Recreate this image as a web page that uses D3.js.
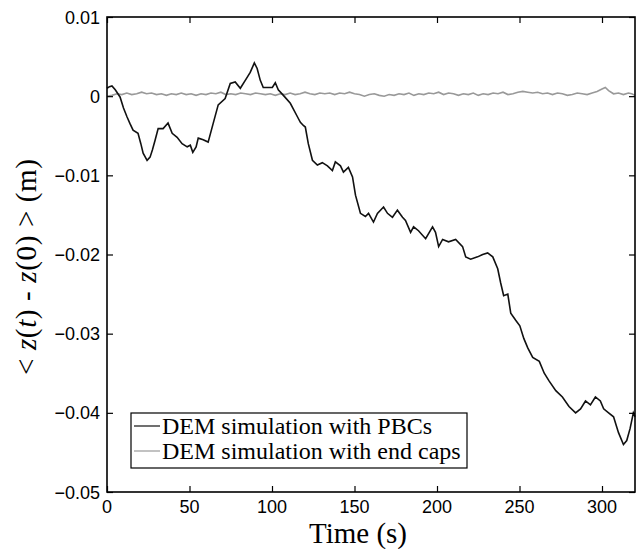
<!DOCTYPE html>
<html>
<head>
<meta charset="utf-8">
<script src="https://cdn.jsdelivr.net/npm/d3@7"></script>
<style>
  body { margin: 0; background: #fff; }
  svg { display: block; }
  .tick-label { font-family: "Liberation Sans", Arial, sans-serif; font-size: 18px; fill: #000; }
  .serif { font-family: "Liberation Serif", "Times New Roman", serif; fill: #000; }
</style>
</head>
<body>
<div id="chart"></div>
<script>
// ---- data (z in mm, converted to m when drawn) ----
const blackT = [0, 1.5, 3, 5, 7.9, 10, 12.1, 14, 15.8, 18.8, 20.5, 21.9, 24.3, 26.1, 27.5, 29.1, 31, 34, 37, 39.5,
  42.5, 45.5, 48.6, 50.5, 52, 54, 55.3, 58.3, 61.3, 64.4, 67.4, 71.6, 74.7, 77.7, 80.8, 83.8, 86.8, 89.3, 91, 92.9,
  94.7, 97.1, 100.2, 102, 103.8, 106.9, 111.1, 115.4, 117.2, 119, 120.2, 122, 124.5, 127.5, 130.5, 133.6, 136.6, 138.4, 141.5, 143.3,
  146.3, 148.8, 150.6, 153.6, 156.6, 158.5, 161.5, 163.9, 167.6, 170, 173, 176, 179.1, 180.9, 184, 185.8, 188.8, 193.1, 197.3, 199.1,
  201, 203.4, 207, 211.3, 215.5, 217.4, 220.4, 224.6, 227.7, 230.7, 233.8, 236.8, 238.6, 240.4, 242.9, 244.7, 247.7, 250.2, 252.6, 255,
  258, 262, 265, 268, 272, 276, 280, 284, 287, 290, 293, 296, 299, 301, 304, 307, 310, 313, 315, 317, 319, 320];
const blackZ = [1.0, 1.2, 1.3, 0.8, -0.1, -1.5, -2.6, -3.5, -4.3, -4.7, -6.0, -7.2, -8.1, -7.7, -6.8, -5.6, -4.1, -4.1, -3.4, -4.7,
  -5.2, -6.0, -6.4, -6.2, -7.1, -6.4, -5.3, -5.5, -5.8, -3.4, -1.1, -0.3, 1.6, 1.8, 1.0, 2.0, 3.0, 4.2, 3.5, 2.0,
  1.1, 1.1, 1.1, 1.7, 0.8, 0.1, -0.9, -2.6, -3.3, -3.7, -3.9, -6.0, -8.1, -8.7, -8.4, -8.8, -9.4, -8.3, -8.8, -9.6,
  -9.0, -10.2, -12.5, -14.8, -15.2, -14.8, -15.9, -14.8, -14.0, -14.8, -15.3, -14.4, -15.3, -15.7, -17.2, -16.5, -17.0, -18.0, -16.5, -17.2,
  -19.0, -18.1, -18.4, -18.1, -19.0, -20.3, -20.6, -20.3, -20.0, -19.8, -20.3, -21.8, -23.6, -25.2, -25.0, -27.4, -28.3, -29.0, -30.6, -31.8,
  -33.0, -33.5, -35.0, -36.0, -37.2, -38.0, -39.2, -40.0, -39.5, -38.5, -39.0, -38.0, -38.5, -39.5, -40.0, -40.5, -42.5, -44.0, -43.5, -42.0, -40.0, -40.5];

const grayT = [0, 3, 6, 9, 12, 15, 18, 21, 24, 27, 30, 33, 36, 39, 42, 45, 48, 51, 54, 57, 60, 63, 66, 69, 72, 75, 78, 81, 84, 87,
  90, 93, 96, 99, 102, 105, 108, 111, 114, 117, 120, 123, 126, 129, 132, 135, 138, 141, 144, 147, 150, 153, 156, 159, 162, 165, 168, 171, 174, 177,
  180, 183, 186, 189, 192, 195, 198, 201, 204, 207, 210, 213, 216, 219, 222, 225, 228, 231, 234, 237, 240, 243, 246, 249, 252, 255, 258, 261, 264, 267,
  270, 273, 276, 279, 282, 285, 288, 291, 294, 297, 300, 302, 304, 307, 310, 313, 316, 318, 320];
const grayZ = [0.0, 0.1, 0.3, 0.2, 0.4, 0.2, 0.3, 0.5, 0.3, 0.4, 0.2, 0.3, 0.1, 0.3, 0.2, 0.4, 0.2, 0.3, 0.1, 0.3, 0.2, 0.4, 0.3, 0.5, 0.2, 0.3, 0.2, 0.4, 0.3, 0.2,
  0.4, 0.3, 0.2, 0.3, 0.1, 0.3, 0.2, 0.4, 0.2, 0.3, 0.5, 0.3, 0.2, 0.4, 0.3, 0.4, 0.2, 0.4, 0.3, 0.5, 0.3, 0.2, 0.0, 0.2, 0.3, 0.1, 0.0, 0.2, 0.1, 0.3,
  0.2, 0.4, 0.1, 0.3, 0.2, 0.4, 0.3, 0.5, 0.2, 0.4, 0.3, 0.1, 0.3, 0.2, 0.4, 0.1, 0.3, 0.2, 0.4, 0.3, 0.5, 0.2, 0.3, 0.5, 0.6, 0.5, 0.4, 0.5, 0.3, 0.4,
  0.2, 0.4, 0.3, 0.1, 0.2, 0.4, 0.3, 0.2, 0.4, 0.6, 0.9, 1.1, 0.7, 0.3, 0.4, 0.2, 0.4, 0.3, 0.1];

const xTicks = [0, 50, 100, 150, 200, 250, 300];
const yTicks = [0.01, 0, -0.01, -0.02, -0.03, -0.04, -0.05];
const seriesNames = ["DEM simulation with PBCs", "DEM simulation with end caps"];
const seriesColors = ["#111", "#999"];

// ---- layout ----
const width = 640, height = 549;
const margin = { top: 17, right: 5, bottom: 57, left: 107 };
const x = d3.scaleLinear().domain([0, 320]).range([margin.left, width - margin.right]);
const y = d3.scaleLinear().domain([-0.05, 0.01]).range([height - margin.bottom, margin.top]);

const svg = d3.select('#chart').append('svg')
  .attr('width', width).attr('height', height);

// curves
const line = d3.line().x(d => x(d[0])).y(d => y(d[1] / 1000));
const grayData = grayT.map((t, i) => [t, grayZ[i]]);
const blackData = blackT.map((t, i) => [t, blackZ[i]]);

svg.append('path').datum(grayData)
  .attr('d', line).attr('fill', 'none')
  .attr('stroke', seriesColors[1]).attr('stroke-width', 1.6);
svg.append('path').datum(blackData)
  .attr('d', line).attr('fill', 'none')
  .attr('stroke', seriesColors[0]).attr('stroke-width', 1.6);

// axes (matlab style: box, inward ticks on all four sides)
const tickLen = 6;
const x0 = x.range()[0], x1 = x.range()[1], y0 = y.range()[0], y1 = y.range()[1];

let xAxisB = svg.append('g').attr('transform', `translate(0,${y0})`)
  .call(d3.axisBottom(x).tickValues(xTicks).tickSizeInner(-tickLen).tickSizeOuter(0).tickFormat(''));
let xAxisT = svg.append('g').attr('transform', `translate(0,${y1})`)
  .call(d3.axisTop(x).tickValues(xTicks).tickSizeInner(-tickLen).tickSizeOuter(0).tickFormat(''));
let yAxisL = svg.append('g').attr('transform', `translate(${x0},0)`)
  .call(d3.axisLeft(y).tickValues(yTicks).tickSizeInner(-tickLen).tickSizeOuter(0).tickFormat(''));
let yAxisR = svg.append('g').attr('transform', `translate(${x1},0)`)
  .call(d3.axisRight(y).tickValues(yTicks).tickSizeInner(-tickLen).tickSizeOuter(0).tickFormat(''));

[xAxisB, xAxisT, yAxisL, yAxisR].forEach(a => {
  a.select('.domain').remove();
  a.selectAll('.tick line').attr('stroke', '#000').attr('stroke-width', 1.2);
});

svg.append('rect')
  .attr('x', x0).attr('y', y1)
  .attr('width', x1 - x0).attr('height', y0 - y1)
  .attr('fill', 'none').attr('stroke', '#000').attr('stroke-width', 1.6);

// tick labels
const fmt = v => v === 0 ? '0' : (v < 0 ? '\u2212' : '') + Math.abs(v).toFixed(2);
svg.selectAll('.xlab').data(xTicks).enter().append('text')
  .attr('class', 'tick-label')
  .attr('x', d => x(d)).attr('y', y0 + 21)
  .attr('text-anchor', 'middle')
  .text(d => d);
svg.selectAll('.ylab').data(yTicks).enter().append('text')
  .attr('class', 'tick-label')
  .attr('x', x0 - 7).attr('y', d => y(d) + 6.5)
  .attr('text-anchor', 'end')
  .text(fmt);

// axis titles
svg.append('text').attr('class', 'serif')
  .attr('x', 358).attr('y', 543)
  .attr('text-anchor', 'middle').style('font-size', '29px')
  .text('Time (s)');

let ylab = svg.append('text').attr('class', 'serif')
  .attr('transform', 'translate(36,267) rotate(-90)')
  .attr('text-anchor', 'middle').style('font-size', '29px')
  .attr('textLength', 216).attr('lengthAdjust', 'spacing');
[['< ', false], ['z', true], ['(', false], ['t', true], [') - ', false], ['z', true], ['(0) > (m)', false]]
  .forEach(p => ylab.append('tspan').style('font-style', p[1] ? 'italic' : 'normal').text(p[0]));

// legend
const legend = svg.append('g').attr('transform', 'translate(131,413)');
legend.append('rect')
  .attr('width', 336).attr('height', 55)
  .attr('fill', '#fff').attr('stroke', '#000').attr('stroke-width', 1.2);
seriesNames.forEach((name, i) => {
  const cy = 13 + i * 25;
  legend.append('line')
    .attr('x1', 3).attr('x2', 29).attr('y1', cy).attr('y2', cy)
    .attr('stroke', seriesColors[i]).attr('stroke-width', 1.2);
  legend.append('text').attr('class', 'serif')
    .attr('x', 31).attr('y', cy + 8)
    .style('font-size', '24px')
    .text(name);
});
</script>
</body>
</html>
